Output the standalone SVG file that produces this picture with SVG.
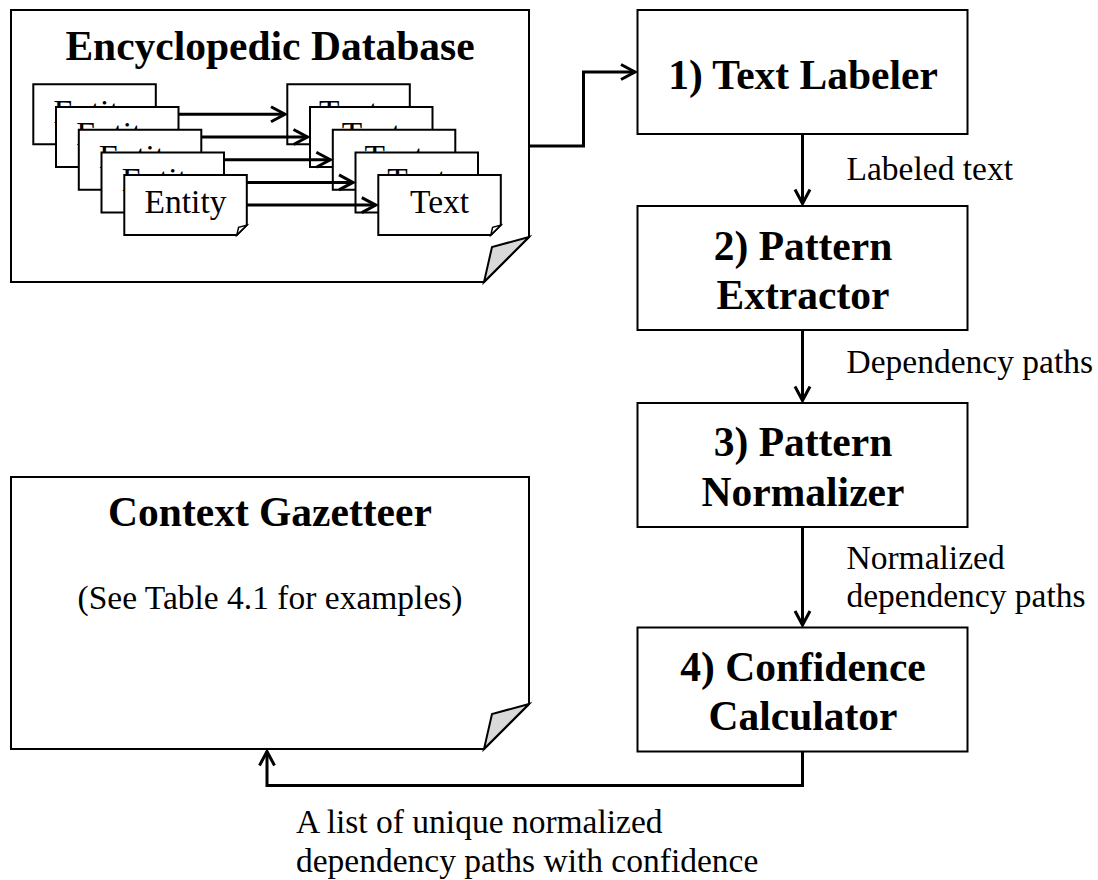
<svg xmlns="http://www.w3.org/2000/svg" width="1098" height="880" viewBox="0 0 1098 880">
  <style>
    .paper { fill: #fff; stroke: #000; stroke-width: 2; }
    .fold { fill: #d9d9d9; stroke: #000; stroke-width: 2; stroke-linejoin: miter; }
    .sfold { fill: #fff; stroke: #000; stroke-width: 1.5; }
    .box { fill: #fff; stroke: #000; stroke-width: 2; }
    .card { fill: #fff; stroke: #000; stroke-width: 2; }
    .title { font-family: "Liberation Serif", "Times New Roman", serif; font-weight: bold; font-size: 41.5px; fill: #000; text-anchor: middle; }
    .txt { font-family: "Liberation Serif", "Times New Roman", serif; font-size: 33.5px; fill: #000; }
    .mid { text-anchor: middle; }
    .wire { fill: none; stroke: #000; stroke-width: 3; stroke-linejoin: miter; }
  </style>
  <defs>
    <marker id="arrow" markerUnits="userSpaceOnUse" markerWidth="30" markerHeight="30" viewBox="-20 -15 30 30" refX="0" refY="0" orient="auto">
      <path d="M-14,-7.5 L0,0 L-14,7.5" fill="none" stroke="#000" stroke-width="3" stroke-linejoin="miter"/>
    </marker>
    <!-- small card with a turned-down corner, 122.5 x 60 -->
    <g id="card">
      <path class="card" d="M0,0 H122.5 V50 L112.5,60 H0 Z"/>
      <path class="sfold" d="M122.5,50 L112.5,60 L114.3,52.2 Z"/>
    </g>
  </defs>

  <!-- Encyclopedic Database -->
  <g id="encyclopedic-database">
    <path class="paper" d="M11,10 H529 V237 L484,282 H11 Z"/>
    <path class="fold" d="M529,237 L484,282 L492,247 Z"/>
    <text class="title" x="270" y="60">Encyclopedic Database</text>

    <g id="entity-1" transform="translate(33.3,84.3)"><use href="#card"/><text class="txt mid" x="61.25" y="38.3">Entity</text></g>
    <g id="text-1" transform="translate(287.3,84.3)"><use href="#card"/><text class="txt mid" x="61.25" y="38.3">Text</text></g>
    <g id="entity-2" transform="translate(56,107)"><use href="#card"/><text class="txt mid" x="61.25" y="38.3">Entity</text></g>
    <g id="text-2" transform="translate(310,107)"><use href="#card"/><text class="txt mid" x="61.25" y="38.3">Text</text></g>
    <g id="entity-3" transform="translate(78.8,129.7)"><use href="#card"/><text class="txt mid" x="61.25" y="38.3">Entity</text></g>
    <g id="text-3" transform="translate(332.8,129.7)"><use href="#card"/><text class="txt mid" x="61.25" y="38.3">Text</text></g>
    <g id="entity-4" transform="translate(101.5,152.4)"><use href="#card"/><text class="txt mid" x="61.25" y="38.3">Entity</text></g>
    <g id="text-4" transform="translate(355.5,152.4)"><use href="#card"/><text class="txt mid" x="61.25" y="38.3">Text</text></g>
    <g id="entity-5" transform="translate(124.3,175.1)"><use href="#card"/><text class="txt mid" x="61.25" y="38.3">Entity</text></g>
    <g id="text-5" transform="translate(378.3,175.1)"><use href="#card"/><text class="txt mid" x="61.25" y="38.3">Text</text></g>
  </g>

  <!-- Processing steps -->
  <g id="text-labeler">
    <rect class="box" x="637.5" y="10" width="330" height="124"/>
    <text class="title" x="803" y="89.3">1) Text Labeler</text>
  </g>
  <g id="pattern-extractor">
    <rect class="box" x="637.5" y="206" width="330" height="124"/>
    <text class="title" x="803" y="259.5">2) Pattern</text>
    <text class="title" x="803" y="308.5">Extractor</text>
  </g>
  <g id="pattern-normalizer">
    <rect class="box" x="637.5" y="403" width="330" height="124"/>
    <text class="title" x="803" y="456">3) Pattern</text>
    <text class="title" x="803" y="506">Normalizer</text>
  </g>
  <g id="confidence-calculator">
    <rect class="box" x="637.5" y="627.5" width="330" height="124"/>
    <text class="title" x="803" y="680.7">4) Confidence</text>
    <text class="title" x="803" y="730">Calculator</text>
  </g>

  <!-- Context Gazetteer -->
  <g id="context-gazetteer">
    <path class="paper" d="M11,477 H529 V704 L484,749 H11 Z"/>
    <path class="fold" d="M529,704 L484,749 L492,714 Z"/>
    <text class="title" x="270" y="525.7">Context Gazetteer</text>
    <text class="txt mid" x="270" y="609.3">(See Table 4.1 for examples)</text>
  </g>

  <!-- Connectors and their labels -->
  <g id="connectors">
    <path class="wire" d="M178.8,114.3 H285" marker-end="url(#arrow)"/>
    <path class="wire" d="M201.3,137 H307.5" marker-end="url(#arrow)"/>
    <path class="wire" d="M224,159.7 H330.3" marker-end="url(#arrow)"/>
    <path class="wire" d="M246.8,182.4 H353" marker-end="url(#arrow)"/>
    <path class="wire" d="M246.8,205.1 H375.8" marker-end="url(#arrow)"/>

    <path class="wire" d="M529,146 H583.5 V72 H635" marker-end="url(#arrow)"/>
    <path class="wire" d="M802.5,134 V203.5" marker-end="url(#arrow)"/>
    <path class="wire" d="M802.5,330 V400.5" marker-end="url(#arrow)"/>
    <path class="wire" d="M802.5,527 V625" marker-end="url(#arrow)"/>
    <path class="wire" d="M802.5,751.5 V785.5 H267 V751.5" marker-end="url(#arrow)"/>

    <text class="txt" x="846.5" y="180">Labeled text</text>
    <text class="txt" x="846.5" y="373">Dependency paths</text>
    <text class="txt" x="846.5" y="568.5">Normalized</text>
    <text class="txt" x="846.5" y="606.7">dependency paths</text>
    <text class="txt" x="296" y="833">A list of unique normalized</text>
    <text class="txt" x="296" y="872">dependency paths with confidence</text>
  </g>
</svg>
